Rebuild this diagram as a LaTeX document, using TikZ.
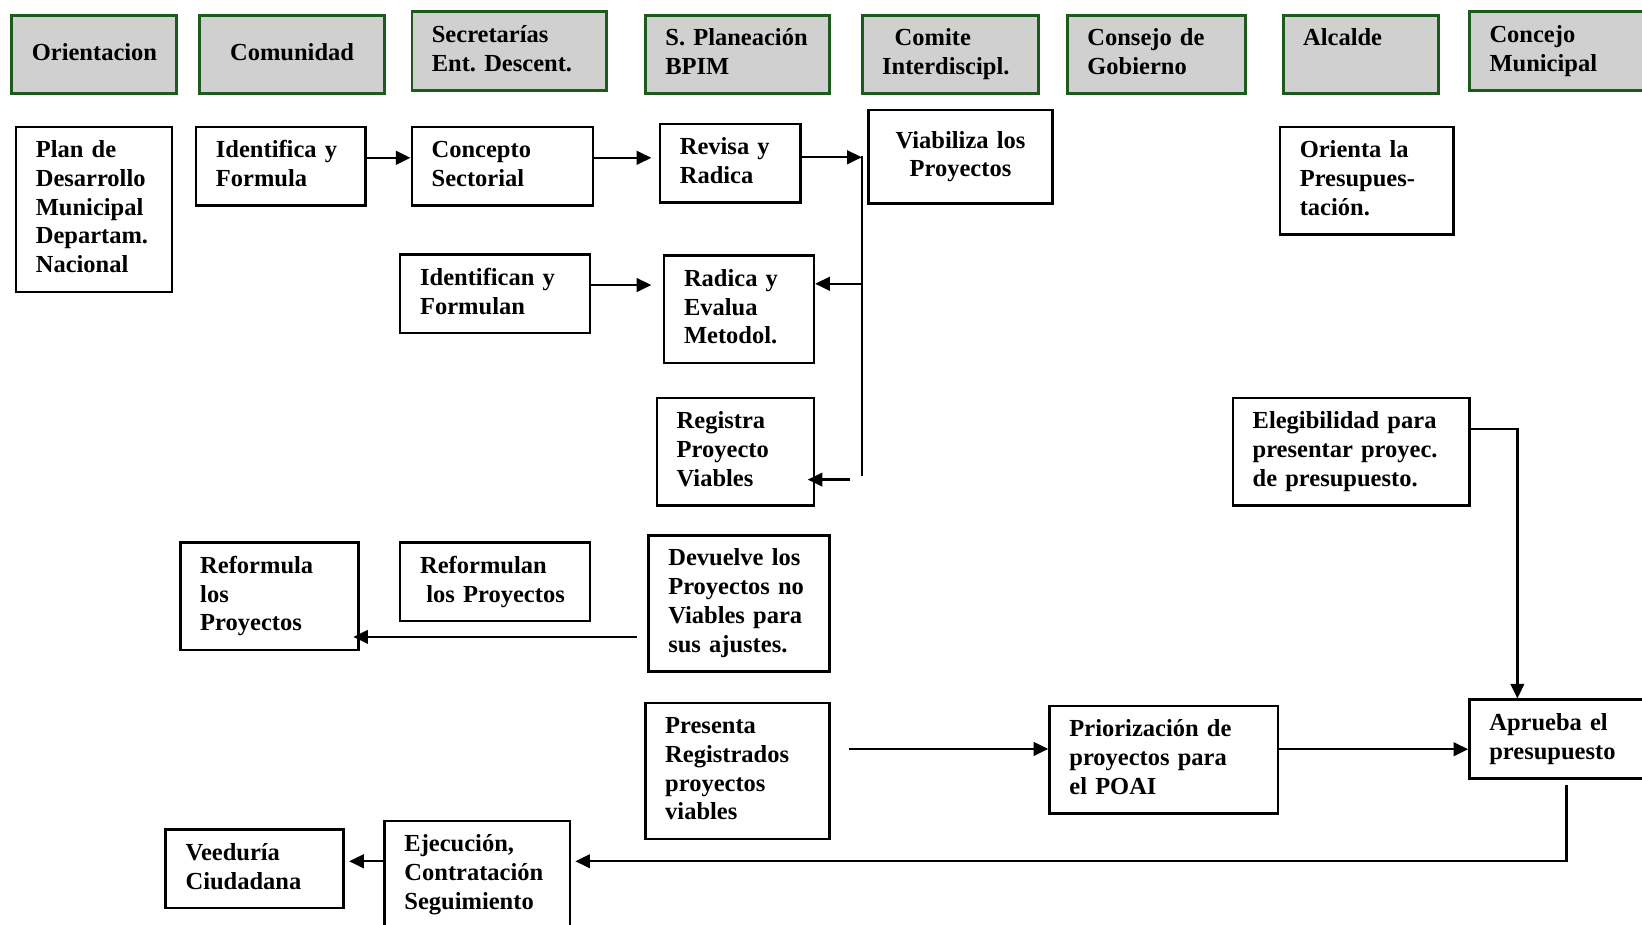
\documentclass[tikz,border=0pt]{standalone}
\usepackage{fontspec}
\setmainfont{Liberation Serif}
\usepackage{tikz}
\usetikzlibrary{arrows.meta}
\definecolor{cabverde}{HTML}{1E5A1E}
\definecolor{cabgris}{HTML}{D0D0D0}
\frenchspacing

\begin{document}
\begin{tikzpicture}[
    x=0.5pt, y=-0.5pt,
    base/.style={anchor=north west, inner xsep=9.5pt, inner ysep=5pt, align=left,
                 font=\bfseries\fontsize{11.7}{13.75}\selectfont,
                 execute at begin node=\strut, execute at end node=\strut},
    cab/.style={base, draw=cabverde, line width=1.4pt, fill=cabgris, minimum height=37.5pt},
    caja/.style={base, draw=black, line width=1.2pt, fill=white},
    flecha/.style={-{Triangle[length=7pt,width=6.5pt]}, line width=1.1pt}
  ]
  \path[use as bounding box, fill=white] (0,0) rectangle (1568,883);
  % encabezados
  \node[cab, minimum width=77.5pt, align=center] (orient) at (10,13) {Orientacion};
  \node[cab, minimum width=88.5pt, align=center] (comun) at (189,13) {Comunidad};
  \node[cab, text width=74pt] (secret) at (392,10) {Secretarías\\Ent. Descent.};
  \node[cab, text width=69pt] (planea) at (615,13) {S. Planeación\\BPIM};
  \node[cab, text width=65pt] (comite) at (822,13) {\hspace*{6pt}Comite\\Interdiscipl.};
  \node[cab, text width=66pt] (consejo) at (1018,13) {Consejo de\\Gobierno};
  \node[cab, text width=55pt] (alcalde) at (1224,13) {Alcalde\\\mbox{}};
  \node[cab, text width=74pt] (concejo) at (1402,10) {Concejo\\Municipal};
  % cajas
  \node[caja, text width=55.5pt] (plan) at (14,120) {Plan de\\Desarrollo\\Municipal\\Departam.\\Nacional};
  \node[caja, text width=62pt] (ident) at (186,120) {Identifica y\\Formula};
  \node[caja, text width=67.5pt] (concepto) at (392,120) {Concepto\\Sectorial};
  \node[caja, text width=48pt] (revisa) at (629,117) {Revisa y\\Radica};
  \node[caja, text width=69pt, align=center, minimum height=44.5pt] (viabiliza) at (828,104) {Viabiliza los\\Proyectos};
  \node[caja, text width=64pt] (orienta) at (1221,120) {Orienta la\\Presupues-\\tación.};
  \node[caja, text width=71.5pt] (identifican) at (381,242) {Identifican y\\Formulan};
  \node[caja, text width=52.5pt] (radica) at (633,243) {Radica y\\Evalua\\Metodol.};
  \node[caja, text width=56pt] (registra) at (626,379) {Registra\\Proyecto\\Viables};
  \node[caja, text width=94pt] (elegib) at (1176,379) {Elegibilidad para\\presentar proyec.\\de presupuesto.};
  \node[caja, text width=66pt] (reformula) at (171,517) {Reformula\\los\\Proyectos};
  \node[caja, text width=71.5pt] (reformulan) at (381,517) {Reformulan\\\hspace*{3pt}los Proyectos};
  \node[caja, text width=67.5pt] (devuelve) at (618,510) {Devuelve los\\Proyectos no\\Viables para\\sus ajustes.};
  \node[caja, text width=69pt] (presenta) at (615,670) {Presenta\\Registrados\\proyectos\\viables};
  \node[caja, text width=90pt] (prioriza) at (1001,673) {Priorización de\\proyectos para\\el POAI};
  \node[caja, text width=74pt] (aprueba) at (1402,667) {Aprueba el\\presupuesto};
  \node[caja, text width=66pt] (veeduria) at (157,791) {Veeduría\\Ciudadana};
  \node[caja, text width=69.5pt] (ejecucion) at (366,783) {Ejecución,\\Contratación\\Seguimiento};
  % linea del comite
  \coordinate (bussup) at (823,149);
  \coordinate (businf) at (823,455);
  \coordinate (busrad) at (823,271);
  \coordinate (busreg) at (812,458);
  % flechas
  \draw[flecha] ([yshift=4pt]ident.east) -- ([yshift=4pt]ident.east -| concepto.west);
  \draw[flecha, shorten >=3.5pt] ([yshift=4pt]concepto.east) -- ([yshift=4pt]concepto.east -| revisa.west);
  \draw[flecha] ([yshift=2.75pt]revisa.east) -- ([yshift=2.75pt]revisa.east -| bussup);
  \draw[line width=1.1pt] (bussup) -- (businf);
  \draw[flecha] (busrad) -- (busrad -| radica.east);
  \draw[flecha, shorten >=-3.5pt] (busreg) -- (busreg -| registra.east);
  \draw[flecha, shorten >=5.5pt] ([yshift=4.25pt]identifican.east) -- ([yshift=4.25pt]identifican.east -| radica.west);
  \draw[flecha, shorten <=5pt, shorten >=-3pt] ([yshift=-16pt]devuelve.west) -- ([yshift=-16pt]devuelve.west -| reformula.east);
  \draw[flecha, shorten <=8.5pt] ([yshift=10.5pt]presenta.east) -- ([yshift=10.5pt]presenta.east -| prioriza.west);
  \draw[flecha] ([yshift=5pt]prioriza.east) -- ([yshift=5pt]prioriza.east -| aprueba.west);
  \draw[flecha] ([yshift=11pt]elegib.east) -| ([xshift=23.5pt]aprueba.north west);
  \draw[flecha, shorten <=2.5pt, shorten >=2pt] ([xshift=47pt]aprueba.south west) |- ([yshift=6.5pt]ejecucion.east);
  \draw[flecha, shorten >=2pt] ([yshift=6.5pt]ejecucion.west) -- ([yshift=6.5pt]ejecucion.west -| veeduria.east);
\end{tikzpicture}
\end{document}
